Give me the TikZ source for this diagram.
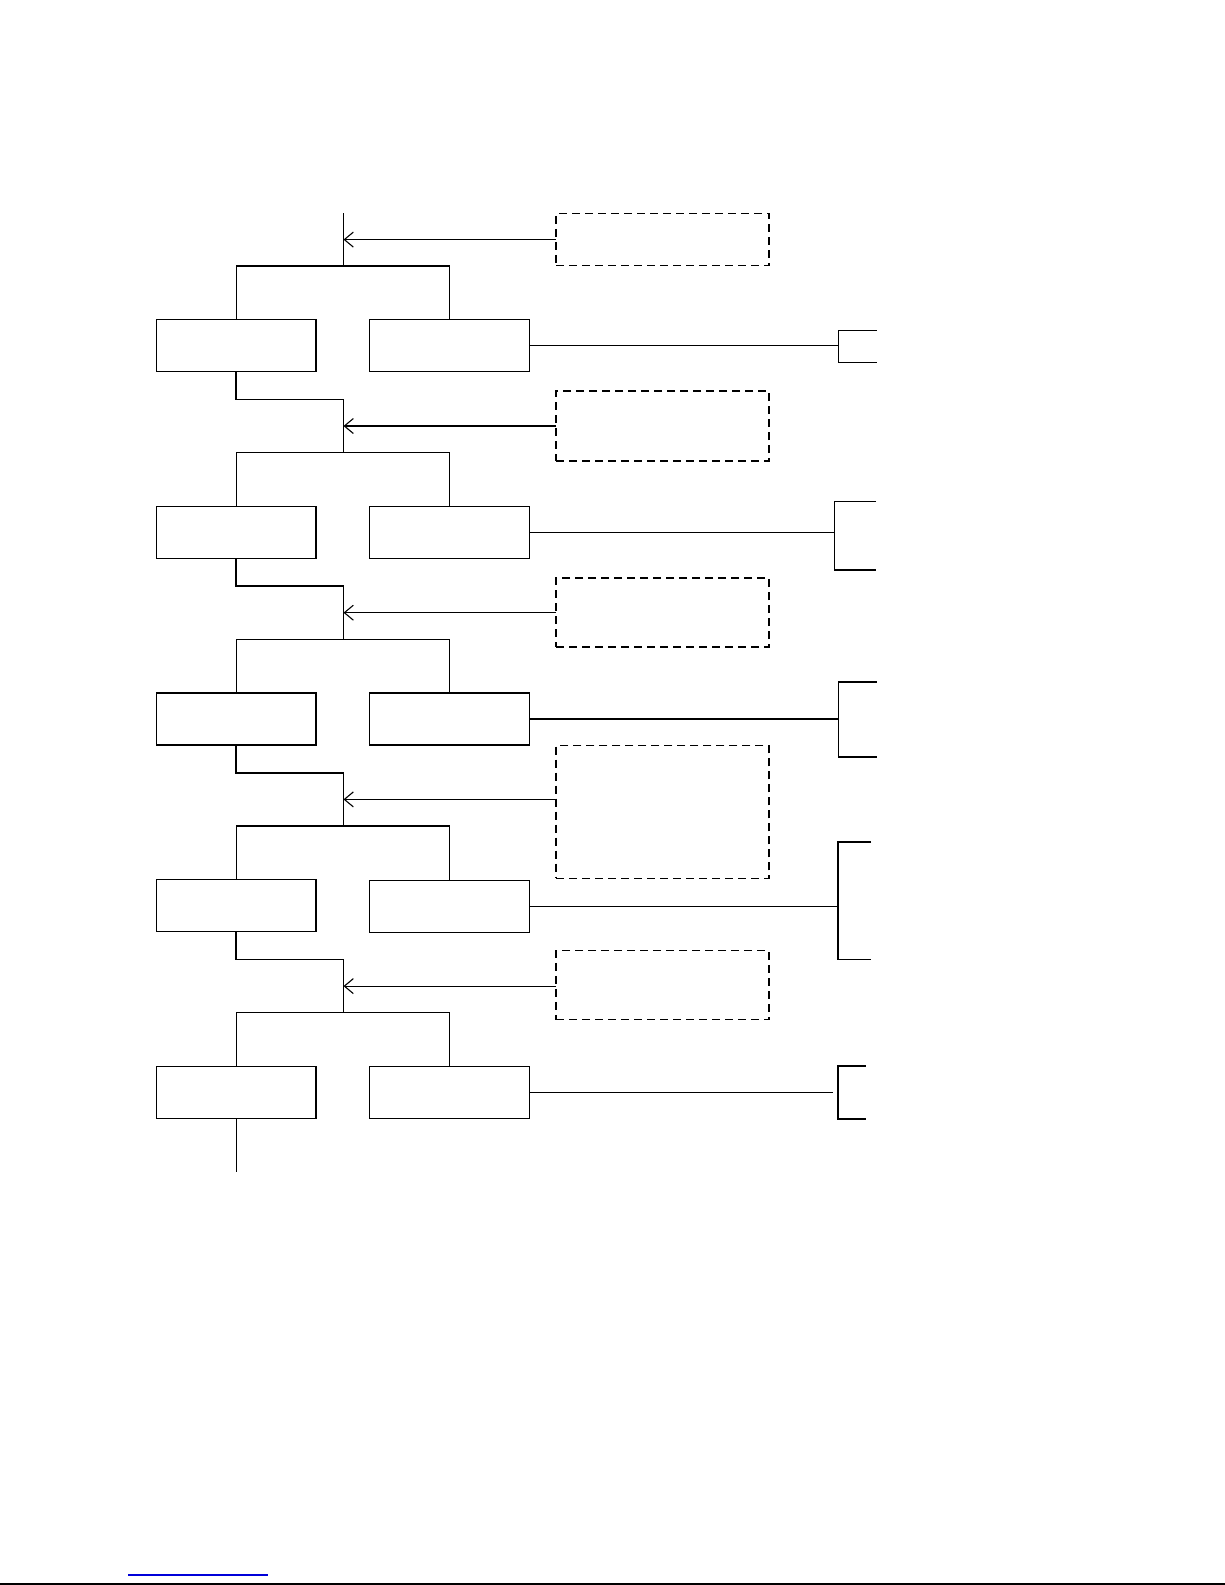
\documentclass[tikz,border=0pt]{standalone}
\usetikzlibrary{arrows.meta}
\begin{document}
\begin{tikzpicture}[x=1pt,y=-1pt,
  box/.style={draw,line width=1.3pt,minimum width=159.5pt,minimum height=52pt,inner sep=0pt,outer sep=0pt},
  note/.style={draw,line width=1.1pt,dash pattern=on 8pt off 5pt,minimum width=213pt,inner sep=0pt,outer sep=0pt},
  link/.style={line width=1.2pt},
  thk/.style={line width=1.7pt},
  feed/.style={line width=1.1pt,-{Straight Barb[length=9pt,width=15pt,line width=1.1pt]}}]
\useasboundingbox (0,0) rectangle (1225,1585);

% boxes
\node[box] (L1) at (236.25,345.5) {};
\node[box] (R1) at (449.5,345.7) {};
\node[box] (L2) at (236.25,532.2) {};
\node[box] (R2) at (449.5,532.4) {};
\node[box] (L3) at (236.25,718.9) {};
\node[box] (R3) at (449.5,719.1) {};
\node[box] (L4) at (236.25,905.3) {};
\node[box] (R4) at (449.5,906.2) {};
\node[box] (L5) at (236.25,1092.5) {};
\node[box] (R5) at (449.5,1092.5) {};

% dashed notes
\node[note,minimum height=52.5pt] (D1) at (662.5,239.6) {};
\node[note,minimum height=70pt] (D2) at (662.5,426) {};
\node[note,minimum height=69pt] (D3) at (662.5,612.5) {};
\node[note,minimum height=132.4pt] (D4) at (662.5,812.1) {};
\node[note,minimum height=69pt] (D5) at (662.5,985.4) {};

% trunk coordinates
\coordinate (T0) at (343.5,213.3);
\coordinate (A1) at (343.5,239.6);
\coordinate (S1) at (343.5,265.9);
\coordinate (J1) at (343.5,399.4);
\coordinate (A2) at (343.5,426);
\coordinate (S2) at (343.5,452.6);
\coordinate (J2) at (343.5,586.1);
\coordinate (A3) at (343.5,612.7);
\coordinate (S3) at (343.5,639.3);
\coordinate (J3) at (343.5,772.8);
\coordinate (A4) at (343.5,799.4);
\coordinate (S4) at (343.5,826);
\coordinate (J4) at (343.5,959.5);
\coordinate (A5) at (343.5,986.1);
\coordinate (S5) at (343.5,1012.7);
\coordinate (E) at (236.25,1172.4);

% trunk and branches
\draw[link] (T0) -- (S1);
\draw[link] (L1.north) |- (S1) -| (R1.north);
\draw[thk] (L1.south) |- (J1) -- (S2);
\draw[link] (L2.north) |- (S2) -| (R2.north);
\draw[thk] (L2.south) |- (J2) -- (S3);
\draw[link] (L3.north) |- (S3) -| (R3.north);
\draw[thk] (L3.south) |- (J3) -- (S4);
\draw[link] (L4.north) |- (S4) -| (R4.north);
\draw[thk] (L4.south) |- (J4) -- (S5);
\draw[link] (L5.north) |- (S5) -| (R5.north);
\draw[link] (L5.south) -- (E);

% arrows from notes
\draw[feed] (D1.west |- A1) -- (A1);
\draw[feed] (D2.west |- A2) -- (A2);
\draw[feed] (D3.west |- A3) -- (A3);
\draw[feed] (D4.west |- A4) -- (A4);
\draw[feed] (D5.west |- A5) -- (A5);

% right brackets
\coordinate (K1) at (838.3,345.7);
\coordinate (K2) at (834.3,532.4);
\coordinate (K3) at (838.3,719.1);
\coordinate (K4) at (838,906.2);
\coordinate (K5) at (833,1092.5);
\draw[link] (R1.east) -- (K1);
\draw[thk] (R2.east) -- (K2);
\draw[thk] (R3.east) -- (K3);
\draw[link] (R4.east) -- (K4);
\draw[thk] (R5.east) -- (K5);
\draw[link] (876.7,330.3) -- (838.3,330.3) -- (838.3,362.3) -- (876.7,362.3);
\draw[link] (876,501.3) -- (834.3,501.3) -- (834.3,570) -- (876,570);
\draw[link] (876.7,682) -- (838.3,682) -- (838.3,757) -- (876.7,757);
\draw[link] (871,842) -- (838,842) -- (838,959.7) -- (871,959.7);
\draw[link] (865.7,1066) -- (838,1066) -- (838,1119) -- (865.7,1119);

% page foot
\draw[blue!85!black,line width=1.5pt] (128,1575) -- (268,1575);
\draw[line width=1.6pt] (0,1584.2) -- (1225,1584.2);
\end{tikzpicture}
\end{document}
